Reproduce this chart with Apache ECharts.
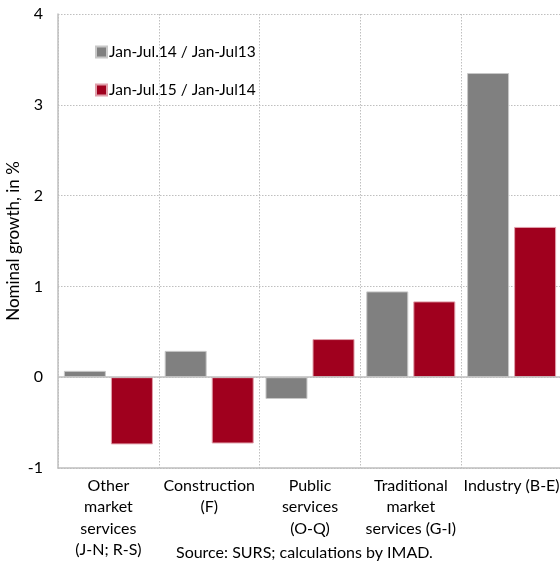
<!DOCTYPE html>
<html><head><meta charset="utf-8">
<script src="https://cdn.jsdelivr.net/npm/echarts@6/dist/echarts.min.js"></script>
<style>html,body{margin:0;padding:0;background:#fff}#c{width:560px;height:564px}</style>
</head><body><div id="c"></div>
<script>
const categories = ["Other\nmarket\nservices\n(J-N; R-S)", "Construction\n(F)", "Public\nservices\n(O-Q)", "Traditional\nmarket\nservices (G-I)", "Industry (B-E)"];
const seriesNames = ["Jan-Jul.14 / Jan-Jul13", "Jan-Jul.15 / Jan-Jul14"];
const jul14 = [0.07, 0.29, -0.24, 0.945, 3.35];
const jul15 = [-0.74, -0.73, 0.42, 0.835, 1.655];
const yTicks = [-1, 0, 1, 2, 3, 4];
const FONT = "Lato";
const chart = echarts.init(document.getElementById('c'), null, {renderer: 'canvas'});
chart.setOption({
  backgroundColor: '#fff',
  animation: false,
  textStyle: {fontFamily: FONT},
  grid: {left: 58, top: 14, width: 504, height: 454, containLabel: false, outerBoundsMode: 'none'},
  legend: {
    orient: 'vertical', left: 95, top: 43, padding: 0, itemWidth: 11, itemHeight: 11, itemGap: 20,
    icon: 'rect',
    textStyle: {fontFamily: FONT, fontSize: 15.5, lineHeight: 18, color: '#000', padding: [0, 0, 0, -3]},
    data: seriesNames
  },
  xAxis: {
    type: 'category', data: categories,
    axisLine: {onZero: false, lineStyle: {color: '#bfbfbf', width: 1.5}},
    axisTick: {show: false},
    splitLine: {show: true, interval: 0, lineStyle: {color: '#bfbfbf', type: [1.5, 1.5], width: 1}},
    axisLabel: {interval: 0, fontFamily: FONT, fontSize: 16, color: '#000', lineHeight: 21.5, margin: 7}
  },
  yAxis: {
    type: 'value', min: yTicks[0], max: yTicks[yTicks.length - 1], interval: 1,
    name: 'Nominal growth, in %', nameLocation: 'middle', nameGap: 36, nameMoveOverlap: false,
    nameTextStyle: {fontFamily: FONT, fontSize: 17, color: '#000'},
    axisLine: {show: true, lineStyle: {color: '#bfbfbf', width: 1.5}},
    axisTick: {show: false},
    axisLabel: {fontFamily: FONT, fontSize: 16, color: '#000', margin: 15},
    splitLine: {show: true, lineStyle: {color: '#bfbfbf', type: [1.5, 1.5], width: 1}}
  },
  series: [
    {
      name: seriesNames[0], type: 'bar', data: jul14, barWidth: 42, barGap: '12%',
      itemStyle: {color: '#808080', borderColor: '#c8c8c8', borderWidth: 1},
      markLine: {silent: true, symbol: 'none', label: {show: false},
        lineStyle: {color: '#bfbfbf', type: 'solid', width: 1.5},
        data: [{yAxis: 0}]}
    },
    {
      name: seriesNames[1], type: 'bar', data: jul15, barWidth: 42,
      itemStyle: {color: '#a0001e', borderColor: '#e0a0ab', borderWidth: 1}
    }
  ],
  graphic: [{
    type: 'text', x: 176, y: 545,
    style: {text: 'Source: SURS; calculations by IMAD.', font: '16px ' + FONT, fill: '#000'}
  }]
});
</script></body></html>
